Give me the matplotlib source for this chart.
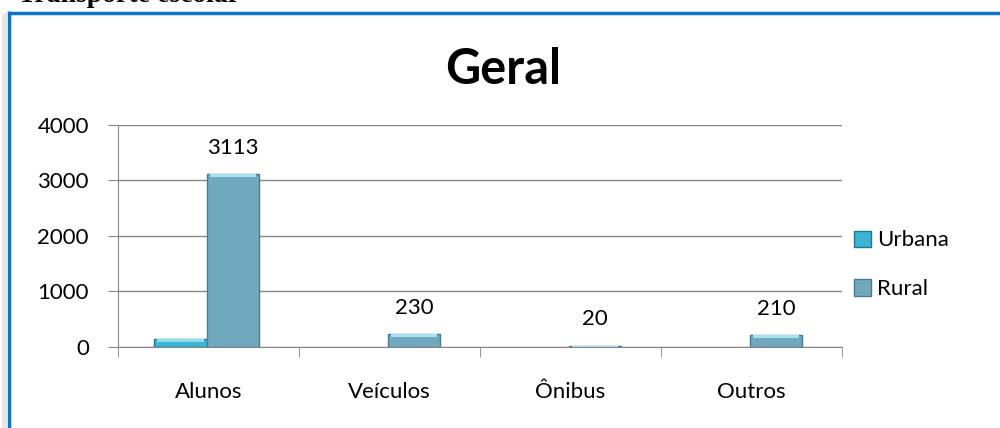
import matplotlib.pyplot as plt
from matplotlib.lines import Line2D
import numpy as np

categorias = ["Alunos", "Veículos", "Ônibus", "Outros"]
urbana = [145, 0, 0, 0]
rural = [3113, 230, 20, 210]

plt.rcParams['font.family'] = ['Lato', 'DejaVu Sans']

fig = plt.figure(figsize=(10, 4.28), dpi=100)
ax = fig.add_axes([0.118, 0.1893, 0.724, 0.5187])

x = np.arange(len(categorias))
w = 0.29

cor_urb = '#3cb4d4'
cor_rur = '#70a9be'

b1 = ax.bar(x - 0.155, urbana, w, color=cor_urb, edgecolor='#1f7891', linewidth=1.0, label='Urbana', zorder=3)
b2 = ax.bar(x + 0.135, rural, w, color=cor_rur, edgecolor='#4a7a8c', linewidth=1.0, label='Rural', zorder=3)

# sem contorno nas barras de valor zero
for r in list(b1) + list(b2):
    if r.get_height() <= 0:
        r.set_linewidth(0)

# brilho no topo das barras (efeito chanfrado)
for b, c in [(b1, '#8fdcef'), (b2, '#a9e0ef')]:
    for r in b:
        h = r.get_height()
        if h <= 0:
            continue
        t = min(h * 0.6, 45)
        ax.bar(r.get_x() + r.get_width() / 2, t, r.get_width() * 0.88, bottom=h - t * 1.05,
               color=c, linewidth=0, zorder=4)

for xi, v in zip(x, rural):
    ax.annotate(str(v), (xi + 0.135, v), xytext=(0, 12), textcoords='offset points',
                ha='center', va='bottom', fontsize=16)

ax.set_xlim(-0.5, 3.5)
ax.set_ylim(0, 4000)
ax.set_yticks([0, 1000, 2000, 3000, 4000])
ax.set_xticks(x)
ax.set_xticklabels(categorias)
ax.set_xticks(np.arange(-0.5, 4, 1), minor=True)
ax.tick_params(axis='x', which='major', length=0, pad=25, labelsize=16)
ax.tick_params(axis='x', which='minor', length=7, color='#868686', direction='out')
ax.tick_params(axis='y', length=7, color='#868686', direction='out', labelsize=16, pad=14)
ax.grid(axis='y', color='#868686', linewidth=1.0, zorder=0)
for s in ['top', 'right']:
    ax.spines[s].set_visible(False)
for s in ['left', 'bottom']:
    ax.spines[s].set_color('#868686')

fig.text(0.503, 1 - 70 / 428, 'Geral', ha='center', va='center', fontsize=35, fontweight='bold')

ax.legend(loc='center left', bbox_to_anchor=(0.843, 0.381), bbox_transform=fig.transFigure,
          frameon=False, fontsize=16, handlelength=0.75, handleheight=0.75,
          handletextpad=0.3, labelspacing=1.3, borderpad=0)

# moldura do grafico
fig.add_artist(Line2D([9 / 1000, 1], [1 - 13 / 428, 1 - 13 / 428], color='#1273c4', linewidth=2.5))
fig.add_artist(Line2D([9 / 1000, 9 / 1000], [0, 1 - 13 / 428], color='#1273c4', linewidth=2.5))
fig.add_artist(Line2D([5 / 1000, 5 / 1000], [0, 1 - 16 / 428], color='#e6e6e6', linewidth=4))

fig.text(0.018, 1 - 1.5 / 428, 'Transporte escolar', fontsize=20, fontweight='bold',
         family='Liberation Serif', va='baseline', ha='left')

fig.savefig('out.png')
